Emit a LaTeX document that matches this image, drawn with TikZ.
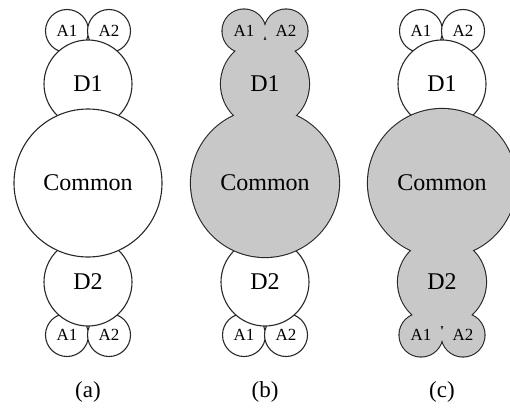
\documentclass[tikz,border=0pt]{standalone}
\usepackage{fontspec}
\setmainfont{Liberation Serif}
\definecolor{lc}{RGB}{40,40,40}
\definecolor{gf}{RGB}{200,200,200}
\begin{document}
\begin{tikzpicture}[x=1pt,y=-1pt,
  wc/.style={circle, inner sep=0pt, draw=lc, line width=1.1pt, fill=white, text=black},
  gc/.style={circle, inner sep=0pt, fill=gf, text=black},
  go/.style={draw=lc, line width=2.2pt},
  asz/.style={minimum size=43pt, font=\fontsize{17}{19}\selectfont},
  dsz/.style={minimum size=88pt, font=\fontsize{24}{27}\selectfont},
  csz/.style={minimum size=148pt, font=\fontsize{24}{27}\selectfont},
  lab/.style={font=\fontsize{23}{26}\selectfont}]
\useasboundingbox (0,0) rectangle (510,412);

% ---------- panel (a) ----------
\begin{scope}[xshift=88pt]
\node[wc,asz] (a-A1t) at (-21,31) {A1};
\node[wc,asz] (a-A2t) at (21,31) {A2};
\node[wc,asz] (a-A1b) at (-21,335) {A1};
\node[wc,asz] (a-A2b) at (21,335) {A2};
\node[wc,dsz] (a-D1) at (0,84) {D1};
\node[wc,dsz] (a-D2) at (0,282) {D2};
\node[wc,csz] (a-C) at (0,183) {Common};
\node[lab] (a-lab) at (0,392) {(a)};
\end{scope}

% ---------- panel (b) ----------
\begin{scope}[xshift=265pt]
\node[wc,asz] (b-A1b) at (-21,335) {A1};
\node[wc,asz] (b-A2b) at (21,335) {A2};
\node[wc,dsz] (b-D2) at (0,282) {D2};
\path[go] (-21,31) circle (21.5) (21,31) circle (21.5) (0,84) circle (44) (0,183) circle (74);
\node[gc,asz] (b-A1t) at (-21,31) {A1};
\node[gc,asz] (b-A2t) at (21,31) {A2};
\node[gc,dsz] (b-D1) at (0,84) {D1};
\node[gc,csz] (b-C) at (0,183) {Common};
\node[lab] (b-lab) at (0,392) {(b)};
\end{scope}

% ---------- panel (c) ----------
\begin{scope}[xshift=442pt]
\node[wc,asz] (c-A1t) at (-21,31) {A1};
\node[wc,asz] (c-A2t) at (21,31) {A2};
\node[wc,dsz] (c-D1) at (0,84) {D1};
\path[go] (-21,335) circle (21.5) (21,335) circle (21.5) (0,282) circle (44) (0,183) circle (74);
\node[gc,asz] (c-A1b) at (-21,335) {A1};
\node[gc,asz] (c-A2b) at (21,335) {A2};
\node[gc,dsz] (c-D2) at (0,282) {D2};
\node[gc,csz] (c-C) at (0,183) {Common};
\node[lab] (c-lab) at (0,392) {(c)};
\end{scope}
\end{tikzpicture}
\end{document}
